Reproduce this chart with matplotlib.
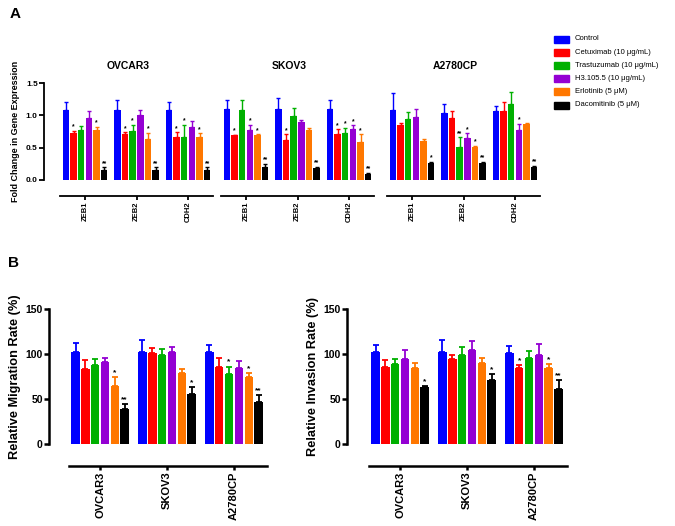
import matplotlib
matplotlib.use('Agg')
import matplotlib.pyplot as plt
from matplotlib.patches import Rectangle
import numpy as np

plt.rcParams['font.family'] = ['Liberation Sans', 'DejaVu Sans']
plt.rcParams['font.weight'] = 'bold'

cell_lines = ['OVCAR3', 'SKOV3', 'A2780CP']
genes = ['ZEB1', 'ZEB2', 'CDH2']
drugs = ['Control', 'Cetuximab (10 μg/mL)', 'Trastuzumab (10 μg/mL)',
         'H3.105.5 (10 μg/mL)', 'Erlotinib (5 μM)', 'Dacomitinib (5 μM)']
colors = ['#0000ff', '#ff0000', '#00b000', '#9400d3', '#ff7700', '#000000']

# panel A: fold change, rows = genes, cols = drugs
ovcar3_fc = [[1.08, 0.73, 0.78, 0.96, 0.77, 0.15],
             [1.08, 0.71, 0.76, 1.00, 0.64, 0.15],
             [1.08, 0.66, 0.67, 0.82, 0.67, 0.15]]
ovcar3_fc_sem = [[0.13, 0.03, 0.05, 0.10, 0.05, 0.045],
                 [0.15, 0.03, 0.09, 0.09, 0.09, 0.05],
                 [0.12, 0.08, 0.18, 0.09, 0.05, 0.045]]
ovcar3_fc_sig = [['', '*', '', '', '*', '**'],
                 ['', '*', '*', '', '*', '**'],
                 ['', '*', '*', '', '*', '**']]
skov3_fc = [[1.10, 0.69, 1.09, 0.78, 0.69, 0.20],
            [1.10, 0.615, 0.99, 0.90, 0.77, 0.18],
            [1.10, 0.71, 0.73, 0.795, 0.58, 0.09]]
skov3_fc_sem = [[0.13, 0.01, 0.14, 0.07, 0.02, 0.05],
                [0.17, 0.095, 0.12, 0.03, 0.04, 0.025],
                [0.13, 0.075, 0.075, 0.05, 0.13, 0.02]]
skov3_fc_sig = [['', '*', '', '*', '*', '**'],
                ['', '*', '', '', '', '**'],
                ['', '*', '*', '*', '*', '**']]
a2780cp_fc = [[1.08, 0.856, 0.95, 0.97, 0.605, 0.256],
              [1.04, 0.96, 0.51, 0.65, 0.51, 0.256],
              [1.06, 1.07, 1.18, 0.78, 0.87, 0.205]]
a2780cp_fc_sem = [[0.26, 0.02, 0.10, 0.13, 0.025, 0.025],
                  [0.13, 0.11, 0.15, 0.07, 0.02, 0.025],
                  [0.09, 0.13, 0.18, 0.09, 0.01, 0.015]]
a2780cp_fc_sig = [['', '', '', '', '', '*'],
                  ['', '', '**', '*', '*', '**'],
                  ['', '', '', '*', '', '**']]

# panel B: rows = cell lines, cols = drugs
migration = [[102, 83, 88, 91, 65, 39],
             [102, 101, 99, 102, 79, 56],
             [102, 86, 78, 85, 74, 47]]
migration_sem = [[10, 10, 7, 5, 9, 5],
                 [14, 6, 7, 6, 4, 7],
                 [8, 10, 8, 7, 5, 7]]
migration_sig = [['', '', '', '', '*', '**'],
                 ['', '', '', '', '', '*'],
                 ['', '', '*', '', '*', '**']]
invasion = [[102, 86, 89, 94, 85, 63],
            [102, 95, 99, 104, 90, 71],
            [101, 84, 96, 99, 84, 61]]
invasion_sem = [[8, 7, 5, 11, 5, 1.5],
                [14, 4, 9, 11, 6, 7],
                [8, 4, 7, 12, 5, 10]]
invasion_sig = [['', '', '', '', '', '*'],
                ['', '', '', '', '', '*'],
                ['', '*', '', '', '*', '**']]

W, H = 675, 526
fig = plt.figure(figsize=(W / 100, H / 100), dpi=100)


def px_axes(left, right, top, bottom):
    return fig.add_axes([left / W, 1 - bottom / H, (right - left) / W, (bottom - top) / H])


def draw_groups(ax, means, sems, sigs, pitch, star_size, star_off, lw, cap):
    means = np.array(means)
    sems = np.array(sems)
    for j in range(len(drugs)):
        x = np.arange(means.shape[0]) * pitch + j
        ax.bar(x, means[:, j], width=0.86, color=colors[j], zorder=2)
        ax.errorbar(x, means[:, j], yerr=[np.zeros(len(x)), sems[:, j]], fmt='none',
                    ecolor=colors[j], elinewidth=lw, capsize=cap, capthick=lw, zorder=1)
        for i in range(len(x)):
            if sigs[i][j]:
                ax.text(x[i], means[i, j] + sems[i, j] + star_off, sigs[i][j], ha='center',
                        va='bottom', fontsize=star_size, fontweight='bold')


def style_axes(ax, pitch, labels, left_lim, right_lim, line_lo, line_hi, offset, show_y,
               spine_w, tick_size, label_size):
    ax.set_xlim(left_lim, right_lim)
    for s in ['top', 'right']:
        ax.spines[s].set_visible(False)
    ax.spines['bottom'].set_position(('outward', offset))
    ax.spines['bottom'].set_bounds(line_lo, line_hi)
    ax.spines['bottom'].set_linewidth(spine_w)
    ax.spines['left'].set_linewidth(spine_w)
    ax.set_xticks(np.arange(len(labels)) * pitch + 2.5)
    ax.set_xticklabels(labels, rotation=90, fontsize=label_size, fontweight='bold')
    ax.tick_params(axis='x', length=3, width=spine_w, pad=1)
    ax.tick_params(axis='y', length=3.5, width=spine_w, labelsize=tick_size, pad=1)
    if not show_y:
        ax.spines['left'].set_visible(False)
        ax.tick_params(axis='y', left=False, labelleft=False)
    for t in ax.get_yticklabels():
        t.set_fontweight('bold')


# ---- panel A ----
pitch_a = 6.72
fc_data = [(ovcar3_fc, ovcar3_fc_sem, ovcar3_fc_sig),
           (skov3_fc, skov3_fc_sem, skov3_fc_sig),
           (a2780cp_fc, a2780cp_fc_sem, a2780cp_fc_sig)]
lefts_a = [44, 205, 371]
for k, (m, s, sg) in enumerate(fc_data):
    ax = px_axes(lefts_a[k], lefts_a[k] + 169, 83, 180)
    draw_groups(ax, m, s, sg, pitch_a, 4.8, 0.005, 1.0, 1.5)
    ax.set_ylim(0, 1.5)
    ax.set_yticks([0, 0.5, 1.0, 1.5])
    ax.set_yticklabels(['0.0', '0.5', '1.0', '1.5'])
    style_axes(ax, pitch_a, genes, -2.85, 19.2, -0.76, 19.2, 11.5, k == 0, 1.3, 6, 5.5)
    ax.set_title(cell_lines[k], fontsize=7.5, fontweight='bold', pad=10)
    ax.patch.set_visible(False)
    if k == 0:
        ax.set_ylabel('Fold Change in Gene Expression', fontsize=6.5, fontweight='bold', labelpad=4)

# ---- panel B ----
pitch_b = 6.81
b_specs = [(49, migration, migration_sem, migration_sig, 'Relative Migration Rate (%)', -2.7),
           (347, invasion, invasion_sem, invasion_sig, 'Relative Invasion Rate (%)', -2.9)]
for left, m, s, sg, ylab, xl in b_specs:
    width = (19.5 - xl) * 9.83
    ax = px_axes(left, left + width, 309, 444)
    draw_groups(ax, m, s, sg, pitch_b, 6, 1, 1.3, 2)
    ax.set_ylim(0, 150)
    ax.set_yticks([0, 50, 100, 150])
    style_axes(ax, pitch_b, cell_lines, xl, 19.5, -0.7, 19.5, 16, True, 1.8, 7.5, 8)
    ax.set_ylabel(ylab, fontsize=9.2, fontweight='bold', labelpad=3)
    ax.patch.set_visible(False)

# legend
for j, d in enumerate(drugs):
    yc = 39 + j * 13.2
    fig.add_artist(Rectangle((554 / W, 1 - (yc + 3.5) / H), 15 / W, 7 / H,
                             transform=fig.transFigure, color=colors[j]))
    fig.text(575 / W, 1 - yc / H, d, fontsize=5.5, fontweight='normal', va='center')

fig.text(10 / W, 1 - 14 / H, 'A', fontsize=11, fontweight='bold', va='center')
fig.text(8 / W, 1 - 263 / H, 'B', fontsize=11, fontweight='bold', va='center')

fig.savefig('out.png', dpi=100)
